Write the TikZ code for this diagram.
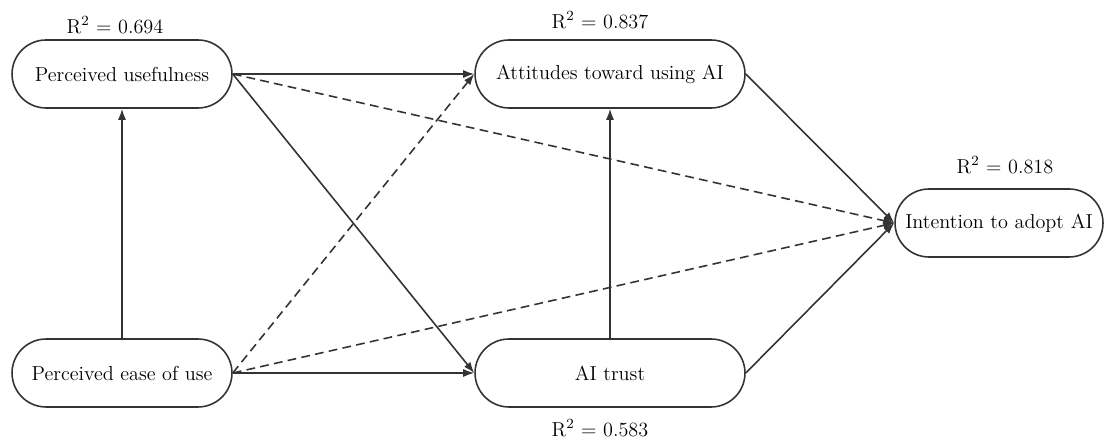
\documentclass[tikz,border=0pt]{standalone}
\usepackage{amsmath}
\usepackage{tikz}
\usetikzlibrary{arrows.meta}

\tikzset{
  construct/.style={draw=black!80, line width=0.9pt, rounded corners=0.68cm,
    minimum height=1.36cm, inner sep=0pt, font=\fontsize{11.5}{14}\selectfont},
  rsq/.style={font=\fontsize{11.5}{14}\selectfont, inner sep=0pt},
  path/.style={draw=black!80, line width=0.9pt, -{Latex[length=2.2mm,width=1.6mm]}},
  weak/.style={path, dashed, dash pattern=on 5pt off 3pt}
}

\begin{document}
\begin{tikzpicture}[x=0.02cm,y=-0.02cm]
\useasboundingbox (0,0) rectangle (1105,438);

\node [construct, minimum width=4.4cm] (pu) at (122,74) {Perceived usefulness};
\node [construct, minimum width=4.4cm] (peou) at (122,373) {Perceived ease of use};
\node [construct, minimum width=5.4cm] (att) at (610,74) {Attitudes toward using AI};
\node [construct, minimum width=5.4cm] (trust) at (610,373) {AI trust};
\node [construct, minimum width=4.16cm] (int) at (999,223) {Intention to adopt AI};

\node [rsq] (r1) at (115,25) {R$^2$ = 0.694};
\node [rsq] (r2) at (600,20) {R$^2$ = 0.837};
\node [rsq] (r3) at (1005,165) {R$^2$ = 0.818};
\node [rsq] (r4) at (600,428) {R$^2$ = 0.583};

\draw [path] (peou.north) -- (pu.south);
\draw [path] (trust.north) -- (att.south);
\draw [path] (pu.east) -- (att.west);
\draw [path] (pu.east) -- (trust.west);
\draw [path] (peou.east) -- (trust.west);
\draw [path] (att.east) -- (int.west);
\draw [path] (trust.east) -- (int.west);

\draw [weak] (pu.east) -- (int.west);
\draw [weak] (peou.east) -- (att.west);
\draw [weak] (peou.east) -- (int.west);
\end{tikzpicture}
\end{document}
